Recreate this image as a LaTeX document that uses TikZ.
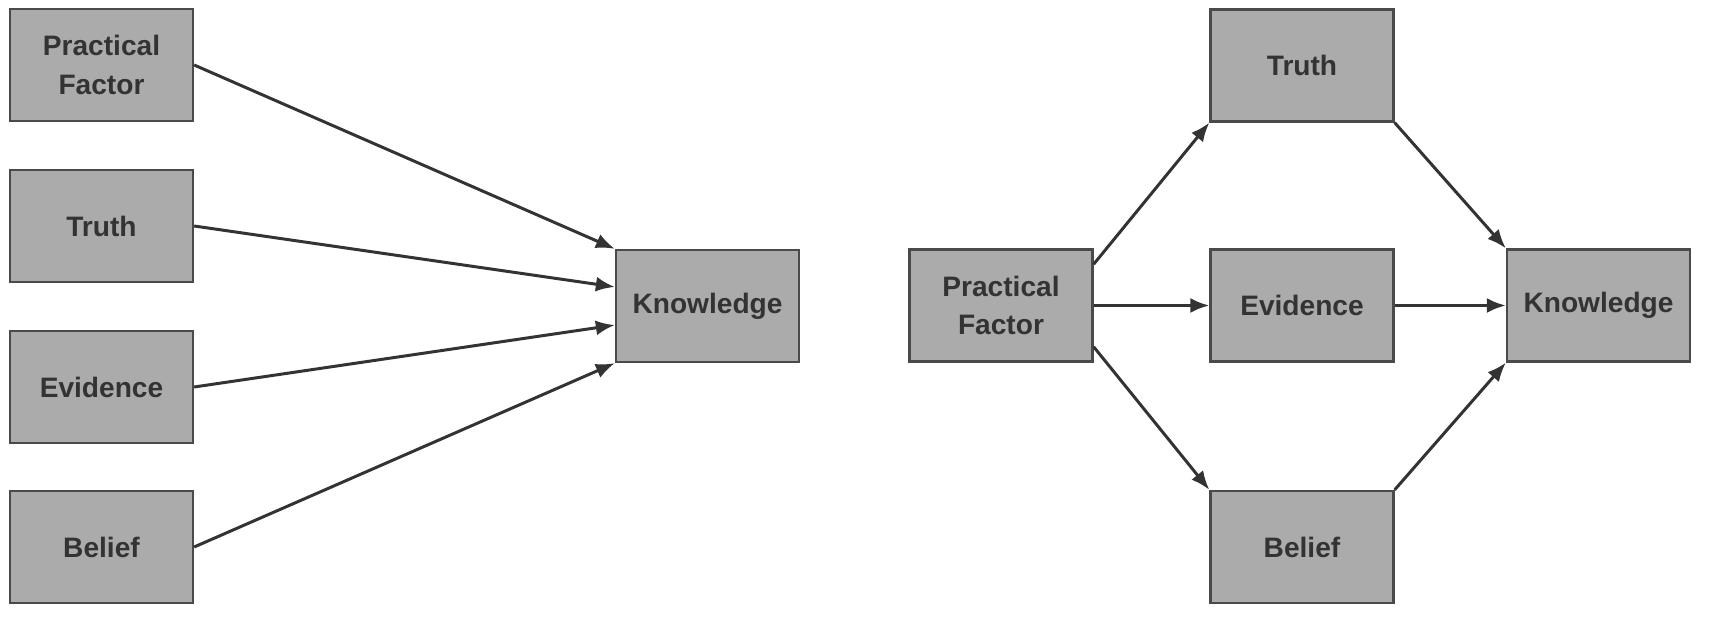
\documentclass[tikz,border=0pt]{standalone}
\usepackage{xcolor}
\usepackage{fontspec}
\setmainfont{Liberation Sans}
\usepackage{tikz}
\usetikzlibrary{arrows.meta,positioning,calc}
\definecolor{boxgray}{HTML}{ABABAB}
\definecolor{edgegray}{HTML}{4A4A4A}
\definecolor{inkgray}{HTML}{333333}
\tikzset{
  % Concept boxes
  concept/.style={draw=edgegray,line width=1.3pt,fill=boxgray,minimum width=3.66cm,
                  minimum height=2.24cm,align=center,inner sep=2pt,text=inkgray,
                  font=\fontsize{16}{22}\selectfont\bfseries},
  % Connectors
  fl/.style={-{Latex[length=3.8mm,width=3.0mm]},inkgray,line width=1.7pt}
}

\begin{document}
\begin{tikzpicture}
  \useasboundingbox (0,0) rectangle (34.28,12.32);

  % Left: all four factors feed knowledge directly
  \node[concept] (lpf)  at (2.03,11.02) {Practical\\Factor};
  \node[concept] (ltr)  at (2.03,7.80)  {Truth};
  \node[concept] (lev)  at (2.03,4.58)  {Evidence};
  \node[concept] (lbe)  at (2.03,1.38)  {Belief};
  \node[concept] (lkn)  at (14.15,6.20) {Knowledge};

  \draw[fl] (lpf.east) -- (lkn.north west);
  \draw[fl] (ltr.east) -- ($(lkn.north west)!1/3!(lkn.south west)$);
  \draw[fl] (lev.east) -- ($(lkn.north west)!2/3!(lkn.south west)$);
  \draw[fl] (lbe.east) -- (lkn.south west);

  % Right: practical factor acts through the other three
  \node[concept] (rpf)  at (20.02,6.21) {Practical\\Factor};
  \node[concept] (rtr)  at (26.04,11.01) {Truth};
  \node[concept] (rev)  at (26.04,6.21) {Evidence};
  \node[concept] (rbe)  at (26.04,1.38) {Belief};
  \node[concept] (rkn)  at (31.97,6.21) {Knowledge};

  \draw[fl] (rpf.24)  -- (rtr.south west);
  \draw[fl] (rpf.east) -- (rev.west);
  \draw[fl] (rpf.-24) -- (rbe.north west);
  \draw[fl] (rtr.south east) -- (rkn.north west);
  \draw[fl] (rev.east) -- (rkn.west);
  \draw[fl] (rbe.north east) -- (rkn.south west);
\end{tikzpicture}
\end{document}
